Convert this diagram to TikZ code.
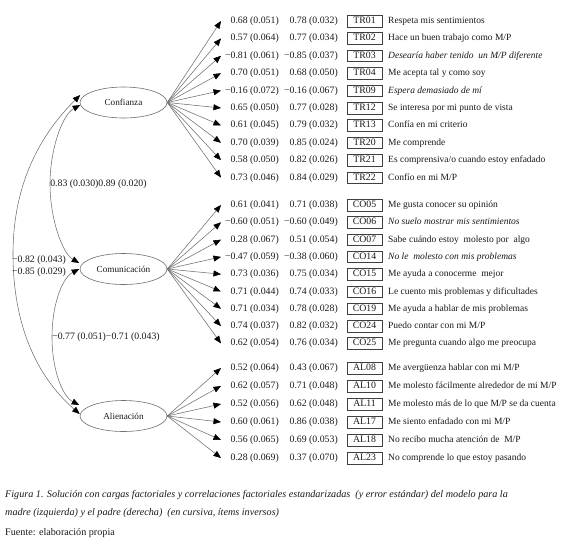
\documentclass[tikz,border=0pt]{standalone}
\usepackage{fontspec}
\setmainfont{Liberation Serif}
\usetikzlibrary{arrows.meta,shapes.geometric}
\definecolor{linegray}{HTML}{707070}
\definecolor{txt}{HTML}{1A1A1A}
\newcommand{\myrow}[6]{%
  \coordinate (t#2) at (221,#3);
  \node[valA] (a#2) at (279,#3) {#4};
  \node[valB] (b#2) at (338,#3) {#5};
  \node[idbox] (#2) at (364.5,#3) {#2};
  \node[itemtxt] (x#2) at (388,#3) {#6};
  \draw[load] (#1.east) -- (t#2);
}
\begin{document}
\begin{tikzpicture}[x=1pt,y=-1pt,
  lat/.style={ellipse, draw=linegray, line width=0.6pt, minimum width=87pt, minimum height=31pt, inner sep=0pt, text=txt, font=\fontsize{9.2}{10}\selectfont},
  load/.style={draw=linegray, line width=0.55pt, -{Triangle[length=7.5pt,width=6pt,color=black]}},
  cor/.style={draw=linegray, line width=0.55pt, {Triangle[length=7.5pt,width=6pt,color=black]}-{Triangle[length=7.5pt,width=6pt,color=black]}},
  valA/.style={anchor=east, inner sep=0pt, text=txt, font=\fontsize{9.8}{11}\selectfont, text height=7pt, text depth=2pt},
  valB/.style={valA},
  idbox/.style={draw=black!75, line width=0.5pt, minimum width=35pt, minimum height=11.5pt, inner sep=0pt, text=txt, font=\fontsize{9.8}{11}\selectfont, text height=7pt, text depth=2pt},
  itemtxt/.style={anchor=west, inner sep=0pt, text=txt, font=\fontsize{9.5}{11}\selectfont, text height=7pt, text depth=2pt},
  corlab/.style={anchor=west, inner sep=0pt, text=txt, font=\fontsize{9.8}{11}\selectfont, text height=7pt, text depth=2pt},
  captxt/.style={anchor=west, inner sep=0pt, text=txt, font=\fontsize{10.15}{12}\selectfont, text height=7pt, text depth=2pt}
]
\useasboundingbox[fill=white] (0,0) rectangle (580,546);

% latent factors
\node[lat] (conf) at (123.5,102.5) {Confianza};
\node[lat] (comm) at (123.5,269) {Comunicación};
\node[lat] (alien) at (123.5,416) {Alienación};

% Confianza items
\myrow{conf}{TR01}{21}{0.68 (0.051)}{0.78 (0.032)}{Respeta mis sentimientos}
\myrow{conf}{TR02}{38.4}{0.57 (0.064)}{0.77 (0.034)}{Hace un buen trabajo como M/P}
\myrow{conf}{TR03}{55.8}{−0.81 (0.061)}{−0.85 (0.037)}{\itshape Desearía haber tenido~ un M/P diferente}
\myrow{conf}{TR04}{73.2}{0.70 (0.051)}{0.68 (0.050)}{Me acepta tal y como soy}
\myrow{conf}{TR09}{90.6}{−0.16 (0.072)}{−0.16 (0.067)}{\itshape Espera demasiado de mí}
\myrow{conf}{TR12}{108}{0.65 (0.050)}{0.77 (0.028)}{Se interesa por mi punto de vista}
\myrow{conf}{TR13}{125.4}{0.61 (0.045)}{0.79 (0.032)}{Confía en mi criterio}
\myrow{conf}{TR20}{142.8}{0.70 (0.039)}{0.85 (0.024)}{Me comprende}
\myrow{conf}{TR21}{160.2}{0.58 (0.050)}{0.82 (0.026)}{Es comprensiva/o cuando estoy enfadado}
\myrow{conf}{TR22}{177.6}{0.73 (0.046)}{0.84 (0.029)}{Confío en mi M/P}

% Comunicacion items
\myrow{comm}{CO05}{205}{0.61 (0.041)}{0.71 (0.038)}{Me gusta conocer su opinión}
\myrow{comm}{CO06}{222.3}{−0.60 (0.051)}{−0.60 (0.049)}{\itshape No suelo mostrar mis sentimientos}
\myrow{comm}{CO07}{239.6}{0.28 (0.067)}{0.51 (0.054)}{Sabe cuándo estoy~ molesto por~ algo}
\myrow{comm}{CO14}{256.9}{−0.47 (0.059)}{−0.38 (0.060)}{\itshape No le~ molesto con mis problemas}
\myrow{comm}{CO15}{274.2}{0.73 (0.036)}{0.75 (0.034)}{Me ayuda a conocerme~ mejor}
\myrow{comm}{CO16}{291.5}{0.71 (0.044)}{0.74 (0.033)}{Le cuento mis problemas y dificultades}
\myrow{comm}{CO19}{308.8}{0.71 (0.034)}{0.78 (0.028)}{Me ayuda a hablar de mis problemas}
\myrow{comm}{CO24}{326.1}{0.74 (0.037)}{0.82 (0.032)}{Puedo contar con mi M/P}
\myrow{comm}{CO25}{343.4}{0.62 (0.054)}{0.76 (0.034)}{Me pregunta cuando algo me preocupa}

% Alienacion items
\myrow{alien}{AL08}{368}{0.52 (0.064)}{0.43 (0.067)}{Me avergüenza hablar con mi M/P}
\myrow{alien}{AL10}{386}{0.62 (0.057)}{0.71 (0.048)}{Me molesto fácilmente alrededor de mi M/P}
\myrow{alien}{AL11}{404}{0.52 (0.056)}{0.62 (0.048)}{Me molesto más de lo que M/P se da cuenta}
\myrow{alien}{AL17}{422}{0.60 (0.061)}{0.86 (0.038)}{Me siento enfadado con mi M/P}
\myrow{alien}{AL18}{440}{0.56 (0.065)}{0.69 (0.053)}{No recibo mucha atención de~ M/P}
\myrow{alien}{AL23}{458}{0.28 (0.069)}{0.37 (0.070)}{No comprende lo que estoy pasando}

% factor correlations
\draw[cor] ([shift={(0.5,-7.5)}]conf.west) .. controls (40,135) and (13,184) .. (13,254)
           .. controls (13,324) and (36,376) .. ([shift={(0,-2)}]alien.west);
\draw[cor] ([shift={(0.5,2.5)}]conf.west) .. controls (62,115) and (50,150) .. (50,184)
           node[corlab] (lcc) {0.83 (0.030)0.89 (0.020)}
           .. controls (50,218) and (62,253) .. ([shift={(-0.5,-6)}]comm.west);
\draw[cor] ([shift={(-0.5,0)}]comm.west) .. controls (62,278) and (52,305) .. (52,337)
           node[corlab] (lca) {−0.77 (0.051)−0.71 (0.043)}
           .. controls (52,369) and (62,396) .. ([shift={(-0.5,-11)}]alien.west);
\node[corlab] (lcaA) at (12,259.5) {−0.82 (0.043)};
\node[corlab] (lcaB) at (12,272) {−0.85 (0.029)};

% caption
\node[captxt] (cap1) at (5,495) {\itshape Figura 1. Solución con cargas factoriales y correlaciones factoriales estandarizadas~ (y error estándar) del modelo para la};
\node[captxt] (cap2) at (5,513) {\itshape madre (izquierda) y el padre (derecha)~ (en cursiva, ítems inversos)};
\node[captxt] (cap3) at (5,533) {Fuente: elaboración propia};
\end{tikzpicture}
\end{document}
